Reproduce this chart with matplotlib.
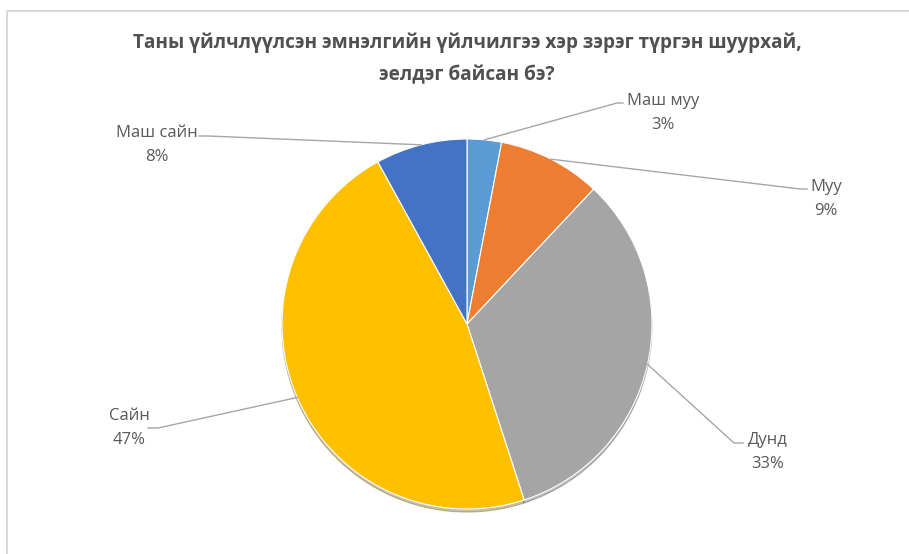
import matplotlib
matplotlib.use("Agg")
import matplotlib.pyplot as plt
from matplotlib.lines import Line2D
import numpy as np

plt.rcParams["font.family"] = ["Open Sans", "DejaVu Sans"]

# data
title = "Таны үйлчлүүлсэн эмнэлгийн үйлчилгээ хэр зэрэг түргэн шуурхай,\nэелдэг байсан бэ?"
categories = ["Маш муу", "Муу", "Дунд", "Сайн", "Маш сайн"]
shares = [3, 9, 33, 47, 8]
colors = ["#5b9bd5", "#ed7d31", "#a5a5a5", "#ffc000", "#4472c4"]

W, H, DPI = 909, 554, 100
CX, CY, R = 467, 324, 185  # pie centre / radius in pixels (from top-left)

# label layout: text block centre (px) and elbow of the leader line (px)
label_pos = {
    "Маш муу": (663, 113),
    "Муу": (826, 199),
    "Дунд": (768, 452),
    "Сайн": (129, 428),
    "Маш сайн": (157, 145),
}
elbow_pos = {
    "Маш муу": [(617, 103), (623, 103)],
    "Муу": [(800, 189), (807, 189)],
    "Дунд": [(734, 443), (743, 443)],
    "Сайн": [(158, 428), (148, 428)],
    "Маш сайн": [(208, 136), (199, 136)],
}


def to_data(px, py):
    return (px - CX) / R, (CY - py) / R


fig = plt.figure(figsize=(W / DPI, H / DPI), dpi=DPI)
ax = fig.add_axes([0, 0, 1, 1])

wedges, _ = ax.pie(
    shares, colors=colors, startangle=90, counterclock=False, radius=1,
    wedgeprops=dict(edgecolor="white", linewidth=0.8),
    shadow=dict(ox=0.0, oy=-0.012, shade=0.6, alpha=0.35),
)
ax.set_xlim(-CX / R, (W - CX) / R)
ax.set_ylim(-(H - CY) / R, CY / R)
ax.axis("off")

txt_color = "#595959"
line_color = "#a6a6a6"
for w, name, val in zip(wedges, categories, shares):
    mid = np.deg2rad((w.theta1 + w.theta2) / 2)
    x0, y0 = np.cos(mid), np.sin(mid)
    pts = [(x0, y0)] + [to_data(*p) for p in elbow_pos[name]]
    xs, ys = zip(*pts)
    ax.plot(xs, ys, color=line_color, lw=1.0, zorder=3)
    tx, ty = to_data(*label_pos[name])
    ax.text(tx, ty, f"{name}\n{val}%", ha="center", va="center",
            fontsize=12, color=txt_color, linespacing=1.65)

fig.text(CX / W, 1 - 59 / H, title, ha="center", va="center", fontsize=13.7,
         fontweight="bold", color="#505050", linespacing=1.8)

# chart area frame (cut off at the right and bottom in the source)
fig.add_artist(Line2D([6.5 / W, 6.5 / W, 1.01], [-0.01, 1 - 11 / H, 1 - 11 / H],
                      transform=fig.transFigure, color="#d9d9d9", lw=1.5))

fig.savefig("out.png", dpi=DPI)
